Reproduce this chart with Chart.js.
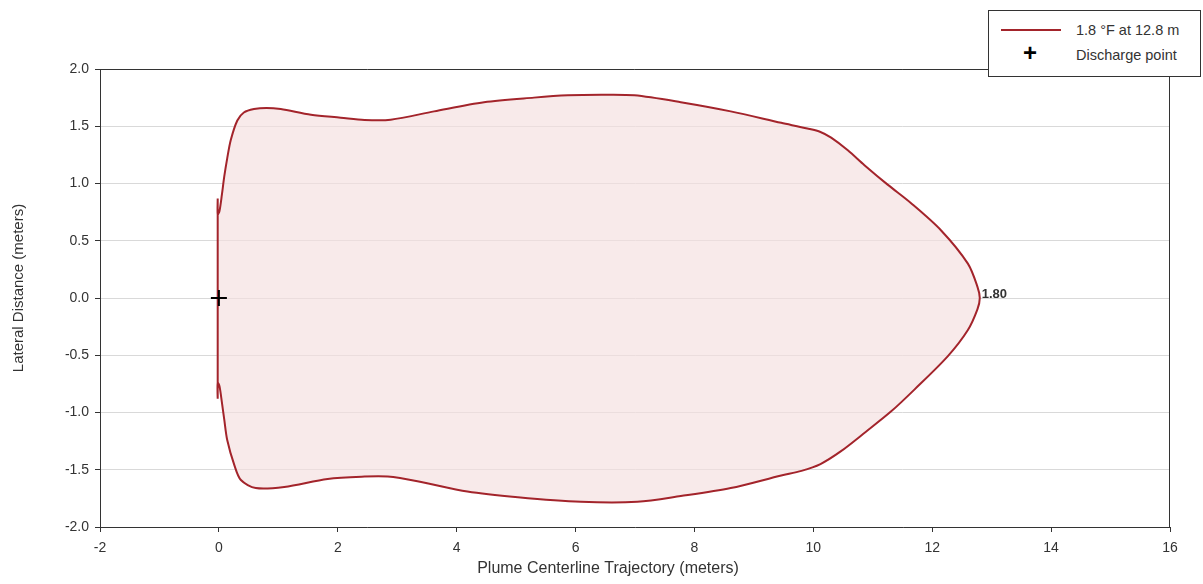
<!DOCTYPE html>
<html>
<head>
<meta charset="utf-8">
<script src="https://cdn.jsdelivr.net/npm/chart.js@4.4.0/dist/chart.umd.min.js"></script>
<style>
  body { margin: 0; background: #fff; font-family: "Liberation Sans", Arial, sans-serif; }
  #wrap { position: relative; width: 1203px; height: 584px; }
  #legend {
    position: absolute; left: 988px; top: 10px; width: 211px; height: 65px;
    border: 1px solid #333; background: #fff; font-size: 14.5px; color: #333;
  }
  .row { position: absolute; left: 0; height: 20px; line-height: 20px; }
  .txt { position: absolute; left: 87px; white-space: nowrap; }
  .swatch { position: absolute; left: 12px; top: 9px; width: 60px; height: 2px; background: #a3242b; }
  .cross { position: absolute; left: 34px; top: -2px; font-size: 24px; font-weight: bold; color: #000; }
</style>
</head>
<body>
<div id="wrap">
  <canvas id="myChart" width="1203" height="584"></canvas>
  <div id="legend">
    <div class="row" style="top:9px"><div class="swatch"></div><div class="txt">1.8 °F at 12.8 m</div></div>
    <div class="row" style="top:34px"><div class="cross">+</div><div class="txt">Discharge point</div></div>
  </div>
</div>
<script>
// plume outline, traced around from the upper spike at x=0
const plumeX = [-0.02, -0.02, 0.01, 0.05, 0.09, 0.14, 0.20, 0.31, 0.42, 0.59, 0.80, 1.04, 1.55, 2.05, 2.45, 2.89, 3.62, 4.46, 5.30, 5.87, 6.43, 6.99, 7.77, 8.61, 9.46, 9.90, 10.12, 10.30, 10.58, 10.86, 11.25, 11.64, 12.15, 12.60, 12.76, 12.80,
                12.76, 12.60, 12.26, 11.70, 11.31, 10.88, 10.46, 10.12, 9.80, 9.46, 8.61, 7.77, 7.04, 6.09, 5.03, 4.18, 3.34, 2.84, 2.45, 1.83, 1.10, 0.62, 0.37, 0.26, 0.14, 0.09, 0.05, 0.01, -0.02, -0.02, -0.02, -0.02];
const plumeY = [0.87, 0.73, 0.76, 0.90, 1.06, 1.22, 1.38, 1.55, 1.62, 1.65, 1.66, 1.65, 1.60, 1.575, 1.555, 1.557, 1.63, 1.71, 1.75, 1.77, 1.775, 1.77, 1.71, 1.63, 1.53, 1.48, 1.45, 1.40, 1.29, 1.16, 0.99, 0.83, 0.59, 0.30, 0.10, 0.00,
                -0.10, -0.28, -0.51, -0.80, -0.99, -1.17, -1.34, -1.45, -1.51, -1.55, -1.66, -1.73, -1.78, -1.78, -1.74, -1.69, -1.60, -1.56, -1.56, -1.58, -1.65, -1.66, -1.59, -1.46, -1.24, -1.06, -0.91, -0.77, -0.74, -0.88, -0.74, 0.87];
const dischargeX = [0];
const dischargeY = [0];
const contourLabel = '1.80';
const labelAt = [12.8, 0];

const xTitle = 'Plume Centerline Trajectory (meters)';
const yTitle = 'Lateral Distance (meters)';

const plumePts = plumeX.map((x, i) => ({ x: x, y: plumeY[i] }));
const dischargePts = dischargeX.map((x, i) => ({ x: x, y: dischargeY[i] }));

const fontFam = '"Liberation Sans", Arial, sans-serif';

const extras = {
    id: 'extras',
    afterDraw(chart) {
        const ctx = chart.ctx;
        const a = chart.chartArea;
        ctx.save();
        ctx.strokeStyle = '#333';
        ctx.lineWidth = 1;
        ctx.beginPath();
        ctx.moveTo(a.left, a.top + 0.5);
        ctx.lineTo(a.right - 0.5, a.top + 0.5);
        ctx.lineTo(a.right - 0.5, a.bottom);
        ctx.stroke();
        // contour value label
        const px = chart.scales.x.getPixelForValue(labelAt[0]);
        const py = chart.scales.y.getPixelForValue(labelAt[1]);
        ctx.font = 'bold 13px ' + fontFam;
        ctx.fillStyle = '#333';
        ctx.textBaseline = 'middle';
        ctx.fillText(contourLabel, px + 2, py - 4);
        // axis titles, slightly off centre like the original
        ctx.font = '16px ' + fontFam;
        ctx.textAlign = 'center';
        ctx.fillText(xTitle, (a.left + a.right) / 2 - 27, 569);
        ctx.translate(19, (a.top + a.bottom) / 2 - 10);
        ctx.rotate(-Math.PI / 2);
        ctx.font = '15px ' + fontFam;
        ctx.fillText(yTitle, 0, 0);
        ctx.restore();
    }
};

const tickFont = { family: fontFam, size: 14 };

const ctx = document.getElementById('myChart');
var mychart = new Chart(ctx, {
    type: 'scatter',
    data: {
        datasets: [
            {
                label: '1.8 °F at 12.8 m',
                data: plumePts,
                showLine: true,
                borderColor: '#a3242b',
                backgroundColor: 'rgba(245, 222, 223, 0.65)',
                borderWidth: 2,
                pointRadius: 0,
                tension: 0.3,
                fill: 'shape',
                order: 2
            },
            {
                label: 'Discharge point',
                data: dischargePts,
                pointStyle: 'cross',
                pointRadius: 8,
                borderColor: '#000',
                borderWidth: 2,
                order: 1
            }
        ]
    },
    options: {
        responsive: false,
        animation: false,
        layout: { padding: { left: 0, top: 69, right: 33, bottom: 0 } },
        plugins: {
            legend: { display: false },
            tooltip: { enabled: false }
        },
        scales: {
            x: {
                min: -2, max: 16,
                ticks: { stepSize: 2, color: '#333', font: tickFont, padding: 8 },
                grid: { drawOnChartArea: false, drawTicks: true, tickLength: 5, tickColor: '#333' },
                border: { color: '#333' },
                afterFit(s) { s.height = 57; }
            },
            y: {
                min: -2, max: 2,
                ticks: { stepSize: 0.5, color: '#333', font: tickFont, padding: 6,
                         callback: (v) => v.toFixed(1) },
                grid: { color: '#d9d9d9', drawTicks: true, tickLength: 5, tickColor: '#333' },
                border: { color: '#333' },
                afterFit(s) { s.width = 100; }
            }
        }
    },
    plugins: [extras]
});
</script>
</body>
</html>
